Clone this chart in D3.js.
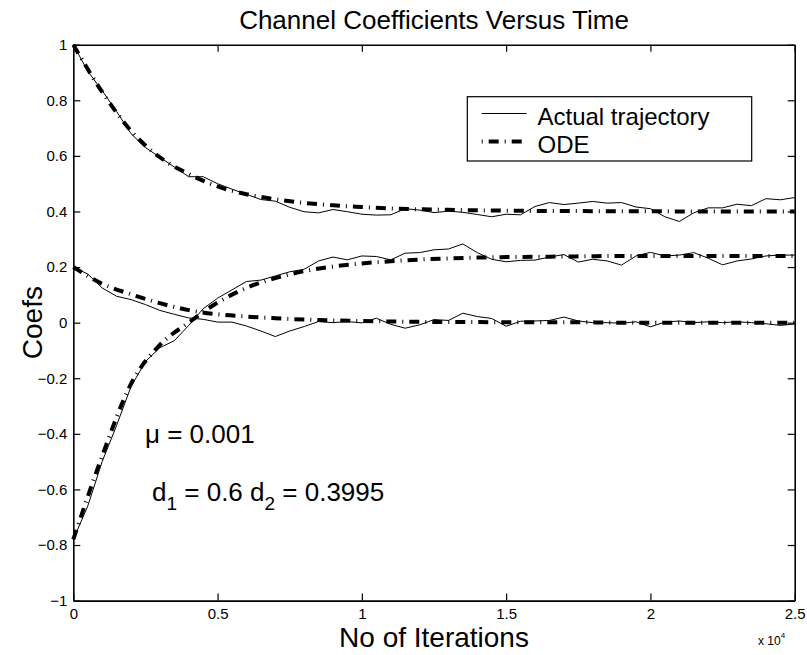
<!DOCTYPE html>
<html>
<head>
<meta charset="utf-8">
<script src="https://cdn.jsdelivr.net/npm/d3@7"></script>
<style>
  html, body { margin: 0; padding: 0; background: #fff; }
  svg { display: block; }
  text { font-family: "Liberation Sans", Arial, Helvetica, sans-serif; fill: #000; }
</style>
</head>
<body>
<svg id="chart" width="807" height="655"></svg>
<script>
// Iteration index of each sampled point of the simulated trajectories
const iterSim = d3.range(0, 25001, 500);
// Iteration index of each point of the ODE solutions
const iterOde = d3.range(0, 25001, 1000);

// Simulated (LMS) coefficient trajectories
const simC0 = [1.0, 0.905, 0.835, 0.76, 0.68, 0.63, 0.595, 0.56, 0.525, 0.525,
  0.50, 0.48, 0.462, 0.443, 0.437, 0.415, 0.399, 0.395, 0.407, 0.399,
  0.39, 0.387, 0.388, 0.41, 0.405, 0.396, 0.401, 0.397, 0.389, 0.381,
  0.39, 0.388, 0.418, 0.432, 0.425, 0.43, 0.436, 0.43, 0.432, 0.416,
  0.41, 0.381, 0.364, 0.395, 0.413, 0.413, 0.426, 0.421, 0.446, 0.442, 0.45];
const simC1 = [0.2, 0.175, 0.125, 0.095, 0.083, 0.065, 0.044, 0.03, 0.017, 0.012,
  0.002, 0.002, -0.012, -0.03, -0.05, -0.03, -0.014, 0.004, 0.0, 0.004,
  -0.001, 0.016, -0.006, -0.02, -0.008, 0.011, 0.008, 0.034, 0.022, 0.015,
  -0.013, 0.005, 0.006, 0.008, 0.02, 0.006, 0.0, 0.0, -0.002, 0.003,
  -0.015, 0.002, 0.006, 0.0, 0.003, 0.0, 0.003, 0.0, -0.004, -0.01, -0.005];
const simC2 = [-0.78, -0.66, -0.5, -0.37, -0.23, -0.14, -0.09, -0.065, -0.01, 0.05,
  0.088, 0.118, 0.148, 0.153, 0.168, 0.183, 0.192, 0.222, 0.236, 0.226,
  0.24, 0.238, 0.226, 0.25, 0.252, 0.262, 0.265, 0.283, 0.252, 0.228,
  0.219, 0.224, 0.225, 0.236, 0.245, 0.218, 0.228, 0.222, 0.207, 0.24,
  0.253, 0.24, 0.243, 0.252, 0.232, 0.208, 0.222, 0.229, 0.24, 0.243, 0.243];

// ODE approximations of the same coefficients
const odeC0 = [1.0, 0.83, 0.69, 0.595, 0.535, 0.49, 0.462, 0.444, 0.431, 0.422,
  0.416, 0.411, 0.408, 0.406, 0.404, 0.403, 0.402, 0.402, 0.401, 0.401,
  0.401, 0.4, 0.4, 0.4, 0.4, 0.4];
const odeC1 = [0.2, 0.14, 0.102, 0.07, 0.045, 0.03, 0.022, 0.016, 0.011, 0.008,
  0.006, 0.004, 0.003, 0.002, 0.002, 0.001, 0.001, 0.001, 0.001, 0.0,
  0.0, 0.0, 0.0, 0.0, 0.0, 0.0];
const odeC2 = [-0.78, -0.48, -0.22, -0.08, 0.0, 0.072, 0.125, 0.16, 0.185, 0.202,
  0.213, 0.221, 0.227, 0.231, 0.234, 0.236, 0.237, 0.238, 0.239, 0.24,
  0.24, 0.24, 0.24, 0.24, 0.24, 0.24];

// Axis ticks
const xTickValues = [0, 5000, 10000, 15000, 20000, 25000];
const xTickLabels = ["0", "0.5", "1", "1.5", "2", "2.5"];
const yTickValues = [-1, -0.8, -0.6, -0.4, -0.2, 0, 0.2, 0.4, 0.6, 0.8, 1];
const yTickLabels = ["\u22121", "\u22120.8", "\u22120.6", "\u22120.4", "\u22120.2", "0",
  "0.2", "0.4", "0.6", "0.8", "1"];

const legendLabels = ["Actual trajectory", "ODE"];

const svg = d3.select("#chart");
svg.append("rect").attr("width", 807).attr("height", 655).attr("fill", "#fff");

const mLeft = 73.3, mTop = 44.7, plotW = 721.4, plotH = 555.9;
const x = d3.scaleLinear().domain([0, 25000]).range([0, plotW]);
const y = d3.scaleLinear().domain([-1, 1]).range([plotH, 0]);

const g = svg.append("g").attr("transform", `translate(${mLeft},${mTop})`);

const odeDash = "10 6 1 6";

// Curves
const simLine = d3.line().x((d, i) => x(iterSim[i])).y(d => y(d));
const odeLine = d3.line().x((d, i) => x(iterOde[i])).y(d => y(d)).curve(d3.curveMonotoneX);

[simC0, simC1, simC2].forEach(s => {
  g.append("path").attr("d", simLine(s))
    .attr("fill", "none").attr("stroke", "#000").attr("stroke-width", 1)
    .attr("stroke-linejoin", "round");
});
[odeC0, odeC1, odeC2].forEach(s => {
  g.append("path").attr("d", odeLine(s))
    .attr("fill", "none").attr("stroke", "#000").attr("stroke-width", 4)
    .attr("stroke-dasharray", odeDash);
});

// Axes: ticks point inward on all four sides
function styleAxis(sel) {
  sel.select(".domain").attr("stroke", "#000").attr("stroke-width", 1.6);
  sel.selectAll(".tick line").attr("stroke", "#000").attr("stroke-width", 1.2);
  sel.selectAll(".tick text").attr("font-size", 15)
    .attr("font-family", '"Liberation Sans", Arial, Helvetica, sans-serif');
}
g.append("g").attr("transform", `translate(0,${plotH})`)
  .call(d3.axisBottom(x).tickValues(xTickValues)
    .tickFormat((d, i) => xTickLabels[i]).tickSize(-7).tickSizeOuter(0).tickPadding(8))
  .call(styleAxis);
g.append("g")
  .call(d3.axisTop(x).tickValues(xTickValues).tickFormat("").tickSize(-7).tickSizeOuter(0))
  .call(styleAxis);
g.append("g")
  .call(d3.axisLeft(y).tickValues(yTickValues)
    .tickFormat((d, i) => yTickLabels[i]).tickSize(-7).tickSizeOuter(0).tickPadding(6))
  .call(styleAxis);
g.append("g").attr("transform", `translate(${plotW},0)`)
  .call(d3.axisRight(y).tickValues(yTickValues).tickFormat("").tickSize(-7).tickSizeOuter(0))
  .call(styleAxis);

// Exponent note for the iteration axis
const expo = svg.append("text").attr("x", 758).attr("y", 645).attr("font-size", 12);
expo.append("tspan").text("x 10");
expo.append("tspan").attr("dy", -7).attr("font-size", 8).text("4");

// Title and axis labels
svg.append("text").attr("x", mLeft + plotW / 2).attr("y", 29)
  .attr("text-anchor", "middle").attr("font-size", 26)
  .text("Channel Coefficients Versus Time");
svg.append("text").attr("x", mLeft + plotW / 2).attr("y", 647)
  .attr("text-anchor", "middle").attr("font-size", 28)
  .text("No of Iterations");
svg.append("text")
  .attr("transform", `translate(42,${mTop + plotH / 2}) rotate(-90)`)
  .attr("text-anchor", "middle").attr("font-size", 28)
  .text("Coefs");

// Parameter annotations
svg.append("text").attr("x", 145).attr("y", 443).attr("font-size", 26)
  .text("\u03bc = 0.001");
const ann = svg.append("text").attr("x", 152).attr("y", 501).attr("font-size", 26);
ann.append("tspan").text("d");
ann.append("tspan").attr("dy", 9).attr("font-size", 19).text("1");
ann.append("tspan").attr("dy", -9).text(" = 0.6 d");
ann.append("tspan").attr("dy", 9).attr("font-size", 19).text("2");
ann.append("tspan").attr("dy", -9).text(" = 0.3995");

// Legend
const lg = svg.append("g");
lg.append("rect").attr("x", 467.3).attr("y", 96.7).attr("width", 284.4).attr("height", 64.3)
  .attr("fill", "#fff").attr("stroke", "#000").attr("stroke-width", 1.2);
const legendRows = [113.5, 141.5];
lg.append("line").attr("x1", 481.7).attr("x2", 526.7)
  .attr("y1", legendRows[0]).attr("y2", legendRows[0])
  .attr("stroke", "#000").attr("stroke-width", 1);
lg.append("line").attr("x1", 481.7).attr("x2", 526.7)
  .attr("y1", legendRows[1]).attr("y2", legendRows[1])
  .attr("stroke", "#000").attr("stroke-width", 4)
  .attr("stroke-dasharray", odeDash).attr("stroke-dashoffset", 16);
legendLabels.forEach((t, i) => {
  lg.append("text").attr("x", 537.5).attr("y", legendRows[i] + 11.5)
    .attr("font-size", 24).text(t);
});
</script>
</body>
</html>
